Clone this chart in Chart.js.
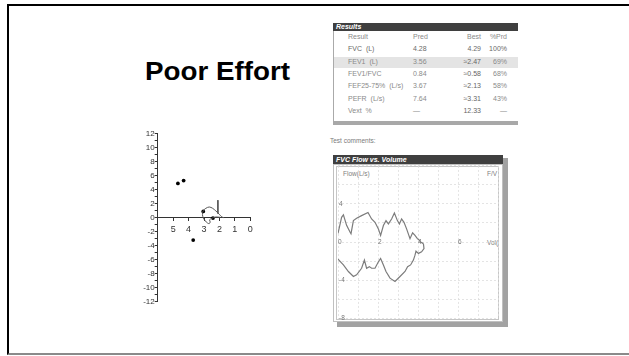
<!DOCTYPE html>
<html>
<head>
<meta charset="utf-8">
<script src="https://cdn.jsdelivr.net/npm/chart.js@4.4.0/dist/chart.umd.min.js"></script>
<style>
  html, body { margin: 0; padding: 0; background: #fff; }
  body { width: 629px; height: 356px; position: relative; overflow: hidden;
         font-family: "Liberation Sans", Arial, sans-serif; }
  .abs { position: absolute; }
  .frame { left: 7px; top: 4px; width: 640px; height: 351px; box-sizing: border-box;
           border-top: 2.5px solid #000; border-left: 2px solid #000; border-bottom: 2px solid #8a8a8a; }
  .title { left: 145px; top: 58px; font-size: 26px; line-height: 26px; font-weight: bold; color: #000;
           white-space: nowrap; transform: scaleX(1.068); transform-origin: left top; }
  .bar { background: #3f3f3f; color: #fff; font-weight: bold; font-style: italic; font-size: 7px;
         box-sizing: border-box; padding-left: 3px; white-space: nowrap; }
  .cell { font-size: 7px; line-height: 8px; height: 8px; color: #8a8a8a; white-space: pre; }
  .note { font-size: 6.5px; color: #7a7a7a; white-space: nowrap; }
</style>
</head>
<body>
<div class="abs frame"></div>
<div class="abs title">Poor Effort</div>

<!-- left: volume/flow scatter with crossing axes -->
<div class="abs" style="left:125px;top:125px;width:140px;height:190px;">
  <canvas id="scatterChart" width="140" height="190"></canvas>
</div>

<!-- results table -->
<div class="abs bar" style="left:333px;top:22.5px;width:185px;height:8px;line-height:8px;">Results</div>
<div class="abs" style="left:333px;top:30.5px;width:185px;height:90.5px;border-left:1px solid #aaa;box-sizing:border-box;background:#fff;"></div>
<div class="abs" style="left:334px;top:56.5px;width:184px;height:11px;background:#e4e4e4;"></div>
<div class="abs" style="left:333px;top:120.5px;width:185px;height:4.5px;background:#a8a8a8;"></div>
<div id="table"></div>

<div class="abs note" style="left:330px;top:136.5px;">Test comments:</div>

<!-- flow-volume panel -->
<div class="abs" style="left:503px;top:158px;width:5px;height:169px;background:#a2a2a2;"></div>
<div class="abs" style="left:337px;top:322px;width:171px;height:5px;background:#a2a2a2;"></div>
<div class="abs bar" style="left:333px;top:154.5px;width:170px;height:9.5px;line-height:9.5px;">FVC Flow vs. Volume</div>
<div class="abs" style="left:333px;top:164px;width:170px;height:158px;background:#fff;border:1px solid #c0c0c0;box-sizing:border-box;"></div>
<div class="abs" style="left:336px;top:165.5px;width:163px;height:154px;border:1px solid #c6c6c6;box-sizing:border-box;overflow:hidden;">
  <div class="abs note" style="left:6px;top:3.5px;color:#808080;">Flow(L/s)</div>
  <div class="abs note" style="left:150px;top:3.5px;color:#808080;">F/V</div>
  <div class="abs note" style="left:150px;top:72.5px;color:#808080;">Vol(L)</div>
</div>
<div class="abs" style="left:336px;top:161px;width:164px;height:162px;">
  <canvas id="fvChart" width="164" height="162"></canvas>
</div>

<script>
// ---- left plot: isolated readings and a small trace ----
const dotVolume = [4.69, 4.32, 3.70, 3.05, 2.42];
const dotFlow   = [4.9, 5.3, -3.2, 0.9, -0.05];
const loopVolume = [1.70, 1.84, 2.01, 2.23, 2.44, 2.66, 2.88, 3.05, 3.10, 3.04, 2.92, 2.78, 2.66, 2.60, 2.64, 2.50, 2.25, 1.95];
const loopFlow   = [0.00, 0.10, 0.49, 0.96, 1.34, 1.53, 1.34, 1.00, 0.45, -0.05, -0.45, -0.75, -0.85, -0.60, -0.30, -0.10, 0.10, 0.05];
const strokeVolume = [2.1, 2.1];
const strokeFlow   = [2.5, 0.6];
const leftXLabels = [5, 4, 3, 2, 1, 0];
const leftYLabels = [12, 10, 8, 6, 4, 2, 0, -2, -4, -6, -8, -10, -12];

// ---- results table ----
const tableHeader = ['Result', 'Pred', 'Best', '%Prd'];
const resultNames = ['FVC  (L)', 'FEV1  (L)', 'FEV1/FVC', 'FEF25-75%  (L/s)', 'PEFR  (L/s)', 'Vext  %'];
const predValues  = ['4.28', '3.56', '0.84', '3.67', '7.64', '—'];
const bestValues  = ['4.29', '≈2.47', '≈0.58', '≈2.13', '≈3.31', '12.33'];
const pctPred     = ['100%', '69%', '68%', '58%', '43%', '—'];

// ---- FVC flow vs volume loop ----
const expVolume = [0.00, 0.18, 0.27, 0.43, 0.60, 0.65, 0.77, 0.93, 1.18, 1.50, 1.68, 1.85, 2.02, 2.13, 2.27, 2.40, 2.52, 2.68, 2.82, 2.97, 3.07, 3.18, 3.30, 3.43, 3.60, 3.73, 3.85, 3.97, 4.07, 4.13, 4.27];
const expFlow   = [0.90, 2.60, 2.85, 1.75, 1.05, 0.87, 2.25, 2.50, 2.77, 3.10, 2.42, 2.07, 1.38, 0.69, 1.73, 2.25, 1.90, 2.42, 3.05, 2.25, 1.90, 2.42, 2.07, 1.38, 0.35, 0.97, 0.69, 0.35, 0.18, 0.00, -0.17];
const inspVolume = [4.27, 4.30, 4.18, 4.02, 3.90, 3.85, 3.77, 3.63, 3.48, 3.35, 3.10, 2.85, 2.60, 2.40, 2.27, 2.13, 2.02, 1.85, 1.68, 1.57, 1.43, 1.32, 1.18, 0.93, 0.77, 0.52, 0.27, 0.00];
const inspFlow   = [-0.17, -0.69, -1.04, -1.20, -0.96, -1.38, -1.90, -2.41, -2.59, -3.10, -3.63, -4.15, -3.80, -3.10, -2.41, -1.73, -2.07, -2.76, -2.76, -2.59, -2.76, -1.90, -2.76, -3.45, -3.63, -3.10, -2.41, -1.80];
const fvVolumeLabels = [0, 2, 4, 6];
const fvFlowLabels = [4, -4, -8];

function pairs(xs, ys) { return xs.map((x, i) => ({ x: x, y: ys[i] })); }

// build the table cells
(function buildTable() {
  const host = document.getElementById('table');
  const rowTop = 36.7, rowGap = 12.43;
  const cols = [
    { left: 348, width: 70, align: 'left' },
    { left: 413, width: 30, align: 'left' },
    { left: 441, width: 40, align: 'right' },
    { left: 484, width: 23, align: 'right' }
  ];
  const rows = [tableHeader].concat(resultNames.map((n, i) => [n, predValues[i], bestValues[i], pctPred[i]]));
  rows.forEach((row, r) => {
    row.forEach((txt, c) => {
      const d = document.createElement('div');
      d.className = 'abs cell';
      d.textContent = txt;
      d.style.left = cols[c].left + 'px';
      d.style.width = cols[c].width + 'px';
      d.style.textAlign = cols[c].align;
      d.style.top = (rowTop + r * rowGap - 4) + 'px';
      if (c === 2 && r > 0) d.style.color = '#666';
      if (r === 1) d.style.color = '#6a6a6a';
      host.appendChild(d);
    });
  });
})();

Chart.defaults.font.family = '"Liberation Sans", Arial, sans-serif';
Chart.defaults.animation = false;

new Chart(document.getElementById('scatterChart'), {
  type: 'scatter',
  data: {
    datasets: [
      { data: pairs(loopVolume, loopFlow), showLine: true, borderColor: '#555', borderWidth: 1,
        pointRadius: 0, tension: 0.35 },
      { data: pairs(strokeVolume, strokeFlow), showLine: true, borderColor: '#555', borderWidth: 1,
        pointRadius: 0 },
      { data: pairs(dotVolume, dotFlow), showLine: false, pointRadius: 1.9, pointBorderWidth: 0,
        backgroundColor: '#000', borderColor: '#000' }
    ]
  },
  options: {
    responsive: false,
    devicePixelRatio: 1,
    layout: { padding: { left: 0, right: 14.7, top: 8.7, bottom: 13.3 } },
    plugins: { legend: { display: false }, tooltip: { enabled: false } },
    scales: {
      x: {
        type: 'linear', min: 0, max: 6, reverse: true, position: { y: 0 },
        ticks: { stepSize: 1, autoSkip: false, maxRotation: 0, padding: 3, color: '#333',
                 font: { size: 9 },
                 callback: v => leftXLabels.includes(v) ? String(v) : '' },
        grid: { drawOnChartArea: false, drawTicks: true, tickLength: 3, color: '#333' },
        border: { display: true, color: '#333', width: 1 }
      },
      y: {
        type: 'linear', min: -12, max: 12, position: 'left',
        afterFit: s => { s.width = 32.7; },
        ticks: { stepSize: 1, autoSkip: false, padding: 0, color: '#333', font: { size: 8 },
                 callback: v => leftYLabels.includes(v) ? String(v) : '' },
        grid: { drawOnChartArea: false, drawTicks: true, tickLength: 3, color: '#333' },
        border: { display: true, color: '#333', width: 1 }
      }
    }
  }
});

new Chart(document.getElementById('fvChart'), {
  type: 'scatter',
  data: {
    datasets: [
      { data: pairs(expVolume, expFlow), showLine: true, borderColor: '#7c7c7c', borderWidth: 1.2,
        pointRadius: 0 },
      { data: pairs(inspVolume, inspFlow), showLine: true, borderColor: '#7c7c7c', borderWidth: 1.2,
        pointRadius: 0 }
    ]
  },
  options: {
    responsive: false,
    devicePixelRatio: 1,
    layout: { padding: { left: 2, right: 2, top: 4, bottom: 4 } },
    plugins: { legend: { display: false }, tooltip: { enabled: false } },
    scales: {
      x: {
        type: 'linear', min: 0, max: 8, position: { y: 0 },
        ticks: { stepSize: 1, autoSkip: false, maxRotation: 0, align: 'start', padding: -4,
                 color: '#777', font: { size: 6.5 },
                 callback: v => fvVolumeLabels.includes(v) ? String(v) : '' },
        grid: { drawTicks: false, color: '#dddddd', lineWidth: 0.8 },
        border: { display: false, dash: [2, 2] }
      },
      y: {
        type: 'linear', min: -8, max: 8, position: 'left',
        afterFit: s => { s.width = 0; },
        ticks: { stepSize: 2, autoSkip: false, mirror: true, padding: 1, color: '#777',
                 font: { size: 6.5 },
                 callback: v => fvFlowLabels.includes(v) ? String(v) : '' },
        grid: { drawTicks: false, color: '#dddddd', lineWidth: 0.8 },
        border: { display: false, dash: [2, 2] }
      }
    }
  }
});
</script>
</body>
</html>
